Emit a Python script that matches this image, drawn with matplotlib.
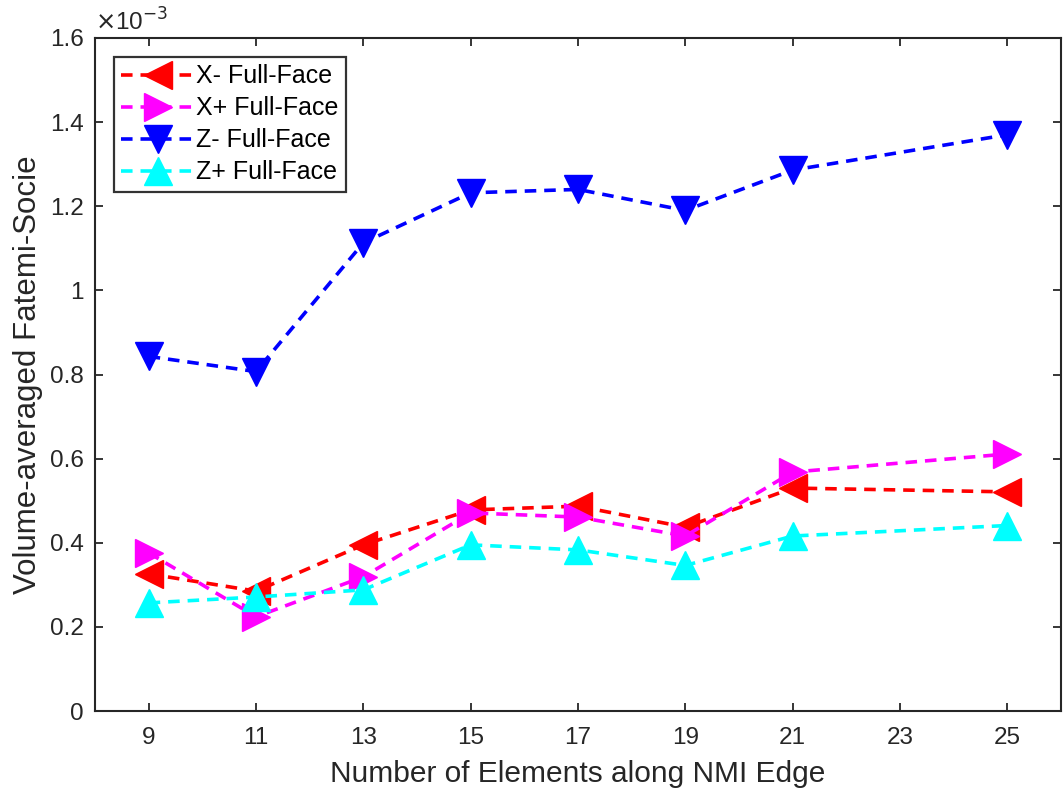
import matplotlib
matplotlib.use("Agg")
import matplotlib.pyplot as plt
from matplotlib.ticker import FixedLocator, FixedFormatter

plt.rcParams['font.family'] = ['Liberation Sans', 'DejaVu Sans']

# Data (values in units of 1e-3)
elements = [9, 11, 13, 15, 17, 19, 21, 25]
x_minus = [0.326, 0.285, 0.395, 0.478, 0.487, 0.437, 0.530, 0.521]
x_plus = [0.376, 0.224, 0.319, 0.471, 0.461, 0.416, 0.568, 0.611]
z_minus = [0.843, 0.807, 1.113, 1.232, 1.240, 1.190, 1.286, 1.370]
z_plus = [0.257, 0.271, 0.288, 0.395, 0.383, 0.346, 0.416, 0.441]

labels = ['X- Full-Face', 'X+ Full-Face', 'Z- Full-Face', 'Z+ Full-Face']
xticks = [9, 11, 13, 15, 17, 19, 21, 23, 25]
yticks = [0, 0.2, 0.4, 0.6, 0.8, 1.0, 1.2, 1.4, 1.6]
ytick_labels = ['0', '0.2', '0.4', '0.6', '0.8', '1', '1.2', '1.4', '1.6']

fig = plt.figure(figsize=(10.63, 7.92), dpi=100)
ax = fig.add_axes([95 / 1063, 1 - 711 / 792, (1061 - 95) / 1063, (711 - 38) / 792])

series = [
    (x_minus, 'red', '<'),
    (x_plus, 'magenta', '>'),
    (z_minus, 'blue', 'v'),
    (z_plus, 'cyan', '^'),
]
for (vals, col, mk), lab in zip(series, labels):
    ax.plot(elements, vals, linestyle=(0, (3.2, 2.2)), color=col, lw=2.6,
            marker=mk, markersize=20, markerfacecolor=col, markeredgecolor=col,
            label=lab)

ax.set_xlim(8, 26)
ax.set_ylim(0, 1.6)
ax.xaxis.set_major_locator(FixedLocator(xticks))
ax.yaxis.set_major_locator(FixedLocator(yticks))
ax.yaxis.set_major_formatter(FixedFormatter(ytick_labels))

dark = '#262626'
for s in ax.spines.values():
    s.set_color(dark)
    s.set_linewidth(1.5)
ax.tick_params(direction='in', length=6, width=1.3, colors=dark,
               labelsize=17.5, top=True, right=True)
ax.tick_params(axis='x', pad=11.5)
ax.tick_params(axis='y', pad=8)
for t in ax.get_xticklabels() + ax.get_yticklabels():
    t.set_color(dark)

ax.set_xlabel('Number of Elements along NMI Edge', fontsize=21.5, color=dark, labelpad=8)
ax.set_ylabel('Volume-averaged Fatemi-Socie', fontsize=22.5, color=dark, labelpad=5)

ax.text(0.0, 1.003, r'$\times$10$^{-3}$', transform=ax.transAxes, fontsize=17.5,
        color=dark, ha='left', va='bottom')

leg = ax.legend(loc='upper left', fontsize=18, frameon=True, fancybox=False,
                handlelength=2.9, handletextpad=0.1, labelspacing=0.32,
                borderaxespad=0.75, borderpad=0.3, edgecolor='black')
leg.get_frame().set_linewidth(1.6)

fig.savefig('out.png', dpi=100)
